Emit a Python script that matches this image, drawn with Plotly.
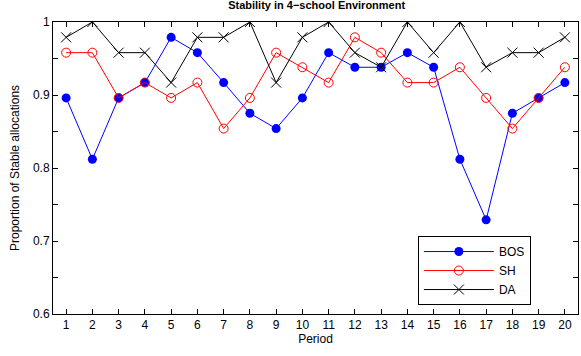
import plotly.graph_objects as go

periods = list(range(1, 21))
bos = [0.896, 0.812, 0.896, 0.917, 0.979, 0.958, 0.917, 0.875, 0.854, 0.896,
       0.958, 0.938, 0.938, 0.958, 0.938, 0.812, 0.729, 0.875, 0.896, 0.917]
sh = [0.958, 0.958, 0.896, 0.917, 0.896, 0.917, 0.854, 0.896, 0.958, 0.938,
      0.917, 0.979, 0.958, 0.917, 0.917, 0.938, 0.896, 0.854, 0.896, 0.938]
da = [0.979, 1.0, 0.958, 0.958, 0.917, 0.979, 0.979, 1.0, 0.917, 0.979,
      1.0, 0.958, 0.938, 1.0, 0.958, 1.0, 0.938, 0.958, 0.958, 0.979]
y_ticks = [0.6, 0.7, 0.8, 0.9, 1.0]
y_labels = ["0.6", "0.7", "0.8", "0.9", "1"]

fig = go.Figure()
fig.add_trace(go.Scatter(x=periods, y=bos, name="BOS", mode="lines+markers",
                         line=dict(color="#0000ff", width=1),
                         marker=dict(symbol="circle", size=9, color="#0000ff")))
fig.add_trace(go.Scatter(x=periods, y=sh, name="SH", mode="lines+markers",
                         line=dict(color="#ff0000", width=1),
                         marker=dict(symbol="circle-open", size=9, color="#ff0000",
                                     line=dict(width=1))))
fig.add_trace(go.Scatter(x=periods, y=da, name="DA", mode="lines+markers",
                         line=dict(color="#000000", width=1),
                         marker=dict(symbol="x-thin-open", size=10, color="#000000",
                                     line=dict(width=1, color="#000000"))))

axis_common = dict(showgrid=False, zeroline=False, showline=True, linecolor="black",
                   linewidth=1, mirror="ticks", ticks="inside", ticklen=5,
                   tickcolor="black", tickfont=dict(size=12, color="black"),
                   automargin=False)

fig.update_xaxes(range=[0.5, 20.5], tickvals=periods, **axis_common,
                 title=dict(text="Period", font=dict(size=12, color="black"), standoff=0))
fig.update_yaxes(range=[0.6, 1.0], tickvals=y_ticks, ticktext=y_labels, **axis_common,
                 minor=dict(dtick=0.05, ticks="inside", ticklen=5, tickcolor="black"),
                 title=dict(text="Proportion of Stable allocations",
                            font=dict(size=12, color="black"), standoff=10))

fig.update_layout(
    width=581, height=356,
    margin=dict(l=53, r=3, t=22, b=42),
    paper_bgcolor="white", plot_bgcolor="white",
    font=dict(family="Liberation Sans, Arial, sans-serif", size=12, color="black"),
    title=dict(text="<b>Stability in 4−school Environment</b>", x=0.545, xanchor="center",
               y=0.995, yanchor="top", font=dict(size=11, color="black")),
    legend=dict(x=0.695, y=0.267, xanchor="left", yanchor="top",
                bordercolor="black", borderwidth=1, bgcolor="white",
                font=dict(size=12, color="black"), itemwidth=70,
                tracegroupgap=0),
    showlegend=True,
)

fig.write_html("out.html", config={"displayModeBar": False},
               post_script="document.body.style.margin='0';document.body.style.overflow='hidden';")
